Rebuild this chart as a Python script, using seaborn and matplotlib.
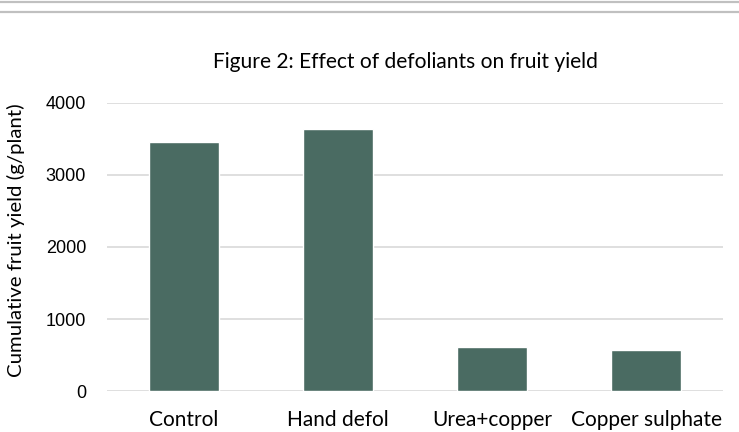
import matplotlib
matplotlib.use("Agg")
import matplotlib.pyplot as plt
from matplotlib.lines import Line2D
import pandas as pd
import seaborn as sns

treatments = ["Control", "Hand defol", "Urea+copper", "Copper sulphate"]
fruit_yield = [3460, 3640, 615, 575]

sns.set_theme(style="white")
plt.rcParams["font.family"] = ["Lato", "DejaVu Sans"]

df = pd.DataFrame({"treatment": treatments, "yield": fruit_yield})

fig = plt.figure(figsize=(7.39, 4.32), dpi=100)
ax = fig.add_axes([107 / 739, 1 - 391 / 432, 616 / 739, (391 - 103) / 432])

sns.barplot(data=df, x="treatment", y="yield", color="#4a6b62",
            saturation=1, width=0.46, ax=ax, zorder=3)

ax.set_ylim(0, 4000)
ax.set_yticks([0, 1000, 2000, 3000, 4000])
ax.yaxis.grid(True, color="#d9d9d9", linewidth=1.2, zorder=0)
for s in ax.spines.values():
    s.set_visible(False)
ax.tick_params(axis="y", length=0, pad=15, labelsize=13, labelcolor="#000000")
ax.tick_params(axis="x", length=0, pad=14, labelsize=15, labelcolor="#000000")
for lbl in ax.get_yticklabels():
    lbl.set_fontfamily("Liberation Sans")
ax.set_xlabel("")
ax.set_ylabel("Cumulative fruit yield (g/plant)", fontsize=14.7, color="#000000")
ax.yaxis.set_label_coords(-82 / 616, (391 - 240) / 288)

fig.text(405 / 739, 1 - 62 / 432, "Figure 2: Effect of defoliants on fruit yield",
         ha="center", va="center", fontsize=15.1, color="#000000")

# grey rules at the top of the picture
for yy in (1.5, 11.5):
    fig.add_artist(Line2D([0, 1], [1 - yy / 432, 1 - yy / 432],
                          transform=fig.transFigure, color="#c0c0c0",
                          linewidth=1.6))

fig.savefig("out.png", dpi=100)
